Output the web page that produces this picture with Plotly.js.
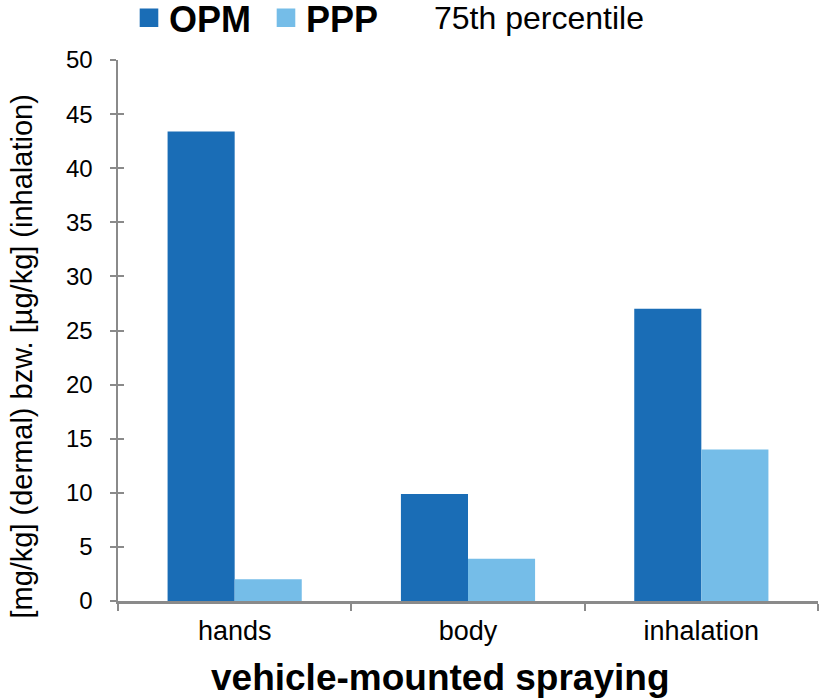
<!DOCTYPE html>
<html>
<head>
<meta charset="utf-8">
<script src="https://cdn.plot.ly/plotly-3.0.1.min.js"></script>
<style>html,body{margin:0;padding:0;background:#fff;}#chart{width:823px;height:698px;}</style>
</head>
<body>
<div id="chart"></div>
<script>
const categories = ["hands", "body", "inhalation"];
const seriesNames = ["OPM", "PPP"];
const opmValues = [43.4, 9.9, 27.0];
const pppValues = [2.0, 3.9, 14.0];
const yTickValues = [0, 5, 10, 15, 20, 25, 30, 35, 40, 45, 50];
const legendNote = "75th percentile";
const xTitle = "vehicle-mounted spraying";
const yTitle = "[mg/kg] (dermal) bzw. [µg/kg] (inhalation)";

const FONT = "Liberation Sans, Arial, sans-serif";
const AXIS_GREY = "#8a8a8a";

const traces = [
  {type: "bar", name: seriesNames[0], x: categories, y: opmValues,
   marker: {color: "#1a6db6", line: {width: 0}}, hoverinfo: "skip"},
  {type: "bar", name: seriesNames[1], x: categories, y: pppValues,
   marker: {color: "#75bde8", line: {width: 0}}, hoverinfo: "skip"},
  // empty helper trace so the inner tick axis is drawn
  {type: "scatter", x: [], y: [], yaxis: "y2", showlegend: false, hoverinfo: "skip"}
];

const layout = {
  width: 823, height: 698,
  margin: {l: 118, r: 5, t: 60, b: 97, autoexpand: false},
  paper_bgcolor: "#fff", plot_bgcolor: "#fff",
  font: {family: FONT, color: "#000", size: 20},
  barmode: "group", bargap: 0.425, bargroupgap: 0,
  showlegend: true,
  legend: {orientation: "h", x: 0.0157, xanchor: "left", y: 1.078, yanchor: "middle",
           font: {family: FONT, size: 36, weight: "bold"}, itemwidth: 30, tracegroupgap: 0,
           entrywidth: 92, entrywidthmode: "pixels",
           bgcolor: "rgba(0,0,0,0)"},
  xaxis: {
    showline: true, linecolor: AXIS_GREY, linewidth: 2.5,
    ticks: "outside", tickson: "boundaries", ticklen: 7, tickcolor: AXIS_GREY, tickwidth: 2,
    showgrid: false, zeroline: false, ticklabelstandoff: 4,
    tickfont: {family: FONT, size: 27}
  },
  yaxis: {
    range: [0, 50], tickvals: yTickValues,
    showline: true, linecolor: AXIS_GREY, linewidth: 2.5,
    ticks: "outside", ticklen: 6, tickcolor: AXIS_GREY, tickwidth: 2,
    showgrid: false, zeroline: false, ticklabelstandoff: 12,
    tickfont: {family: FONT, size: 24}
  },
  yaxis2: {
    overlaying: "y", anchor: "x", side: "left",
    range: [0, 50], tickvals: yTickValues,
    showline: false, ticks: "inside", ticklen: 6, tickcolor: AXIS_GREY, tickwidth: 2,
    showticklabels: false, showgrid: false, zeroline: false
  },
  annotations: [
    {text: legendNote, xref: "paper", yref: "paper", x: 0.449, y: 1.078,
     xanchor: "left", yanchor: "middle", showarrow: false,
     font: {family: FONT, size: 32, color: "#000"}},
    {text: yTitle, xref: "paper", yref: "paper", x: -0.137, y: 0.452,
     xanchor: "center", yanchor: "middle", textangle: -90, showarrow: false,
     font: {family: FONT, size: 29, color: "#000"}},
    {text: "<b>" + xTitle + "</b>", xref: "paper", yref: "paper", x: 0.4607, y: -0.1423,
     xanchor: "center", yanchor: "middle", showarrow: false,
     font: {family: FONT, size: 37, color: "#000"}}
  ]
};

Plotly.newPlot("chart", traces, layout, {displayModeBar: false, staticPlot: true}).then(function (gd) {
  gd.querySelectorAll(".legend .legendpoints path").forEach(function (p) {
    const t = p.getAttribute("transform") || "";
    p.setAttribute("transform", t + " scale(1.55)");
  });
});
</script>
</body>
</html>
